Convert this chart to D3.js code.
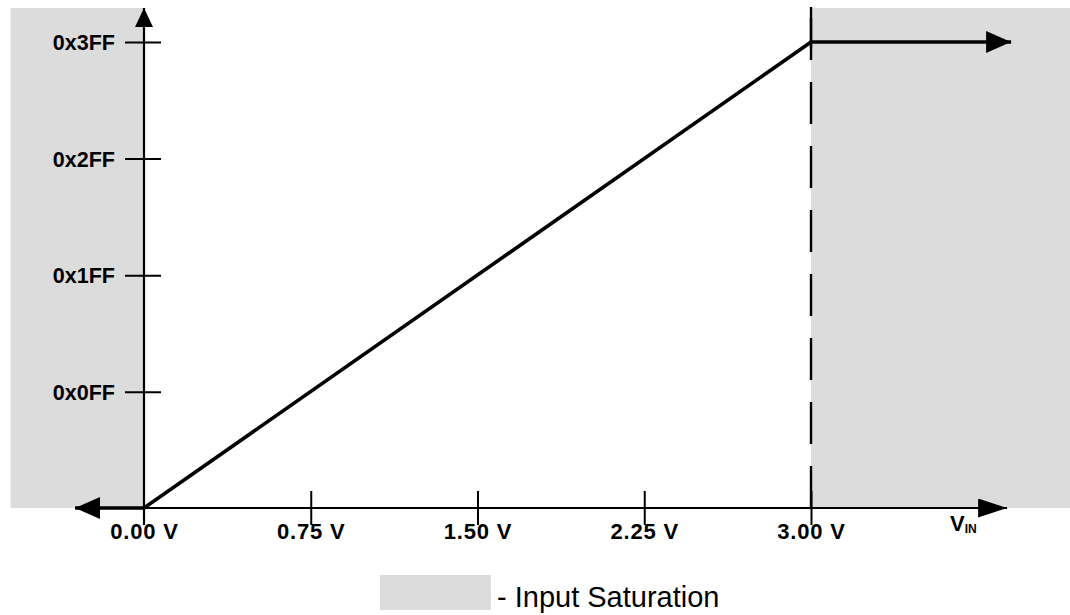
<!DOCTYPE html>
<html><head><meta charset="utf-8">
<script src="https://cdn.jsdelivr.net/npm/d3@7"></script>
<style>body{margin:0;background:#fff}svg{display:block}</style>
</head><body>
<svg id="c" width="1070" height="615"></svg>
<script>
const xTickValues = [0, 0.75, 1.5, 2.25, 3.0];
const xTickLabels = ["0.00 V", "0.75 V", "1.50 V", "2.25 V", "3.00 V"];
const yTickValues = [255, 511, 767, 1023];
const yTickLabels = ["0x0FF", "0x1FF", "0x2FF", "0x3FF"];
const transferVin = [-0.31, 0, 3.0, 3.9];
const transferCode = [0, 0, 1023, 1023];
const saturationStart = [-0.6, 3.0];
const saturationEnd = [0, 4.18];
const legendLabel = "- Input Saturation";

const FONT = "'Liberation Sans', Arial, sans-serif";
const svg = d3.select("#c");
const x = d3.scaleLinear().domain([0, 3]).range([144, 811]);
const y = d3.scaleLinear().domain([0, 1023]).range([508, 42]);
const yTopVal = y.invert(8);
const gray = "#dcdcdc";

const defs = svg.append("defs");
function marker(id, w, h) {
  defs.append("marker").attr("id", id).attr("viewBox", `0 0 ${w} ${h}`)
    .attr("refX", w).attr("refY", h / 2).attr("markerWidth", w).attr("markerHeight", h)
    .attr("markerUnits", "userSpaceOnUse").attr("orient", "auto-start-reverse")
    .append("path").attr("d", `M0,0L${w},${h/2}L0,${h}Z`).attr("fill", "#000");
}
marker("arrData", 25, 22);
marker("arrAxis", 29, 19);
marker("arrY", 19, 18);

// saturation regions
svg.selectAll("rect.sat").data(saturationStart).join("rect").attr("class", "sat")
  .attr("x", (d) => x(d)).attr("y", y(yTopVal))
  .attr("width", (d, i) => x(saturationEnd[i]) - x(d))
  .attr("height", y(0) - y(yTopVal)).attr("fill", gray);

// x axis
const xAxis = d3.axisBottom(x).tickValues(xTickValues).tickSize(0).tickFormat((d, i) => xTickLabels[i]);
const gx = svg.append("g").attr("transform", `translate(0,${y(0)})`).call(xAxis);
gx.select(".domain").remove();
gx.selectAll(".tick text").attr("dy", 0).attr("y", 31)
  .style("font-family", FONT).style("font-weight", "bold")
  .style("font-size", "22px").style("letter-spacing", "0.8px").attr("fill", "#000");
gx.selectAll(".tick").filter((d) => d !== 0).append("line")
  .attr("y1", -17).attr("y2", 17).attr("stroke", "#000").attr("stroke-width", 2);
svg.append("line").attr("x1", x(transferVin[0])).attr("x2", x(3.9) - 4)
  .attr("y1", y(0)).attr("y2", y(0)).attr("stroke", "#000").attr("stroke-width", 2.2)
  .attr("marker-end", "url(#arrAxis)");

// V_IN label
const vin = svg.append("text").attr("x", 950).attr("y", 531)
  .style("font-family", FONT).style("font-weight", "bold").style("font-size", "22px");
vin.append("tspan").text("V");
vin.append("tspan").attr("dy", 2).style("font-size", "12px").text("IN");

// y axis
const yAxis = d3.axisLeft(y).tickValues(yTickValues).tickSize(0).tickFormat((d, i) => yTickLabels[i]);
const gy = svg.append("g").attr("transform", `translate(${x(0)},0)`).call(yAxis);
gy.select(".domain").remove();
gy.selectAll(".tick text").attr("x", -29).attr("dy", "0.36em")
  .style("font-family", FONT).style("font-weight", "bold")
  .style("font-size", "21.5px").attr("fill", "#000");
gy.selectAll(".tick").append("line").attr("x1", -19).attr("x2", 17)
  .attr("stroke", "#000").attr("stroke-width", 2);
svg.append("line").attr("x1", x(0)).attr("x2", x(0)).attr("y1", y(0) + 17).attr("y2", y(yTopVal))
  .attr("stroke", "#000").attr("stroke-width", 2.2).attr("marker-end", "url(#arrY)");

// dashed saturation boundary
svg.append("line").attr("x1", x(3.0)).attr("x2", x(3.0)).attr("y1", y(0)).attr("y2", y(yTopVal) - 1)
  .attr("stroke", "#000").attr("stroke-width", 2.4).attr("stroke-dasharray", "42,22");
svg.append("line").attr("x1", x(3.0)).attr("x2", x(3.0)).attr("y1", y(yTopVal) - 1).attr("y2", y(1023) + 6)
  .attr("stroke", "#000").attr("stroke-width", 2.4);

// transfer curve
const pts = transferVin.map((v, i) => [x(v), y(transferCode[i])]);
svg.append("path").attr("d", d3.line()(pts)).attr("fill", "none").attr("stroke", "#000")
  .attr("stroke-width", 3.6).attr("stroke-linejoin", "miter")
  .attr("marker-start", "url(#arrData)").attr("marker-end", "url(#arrData)");

// legend
svg.append("rect").attr("x", 380).attr("y", 575).attr("width", 111).attr("height", 35).attr("fill", gray);
svg.append("text").attr("x", 497).attr("y", 607).style("font-family", FONT)
  .style("font-size", "29px").attr("fill", "#000").text(legendLabel);
</script>
</body></html>
